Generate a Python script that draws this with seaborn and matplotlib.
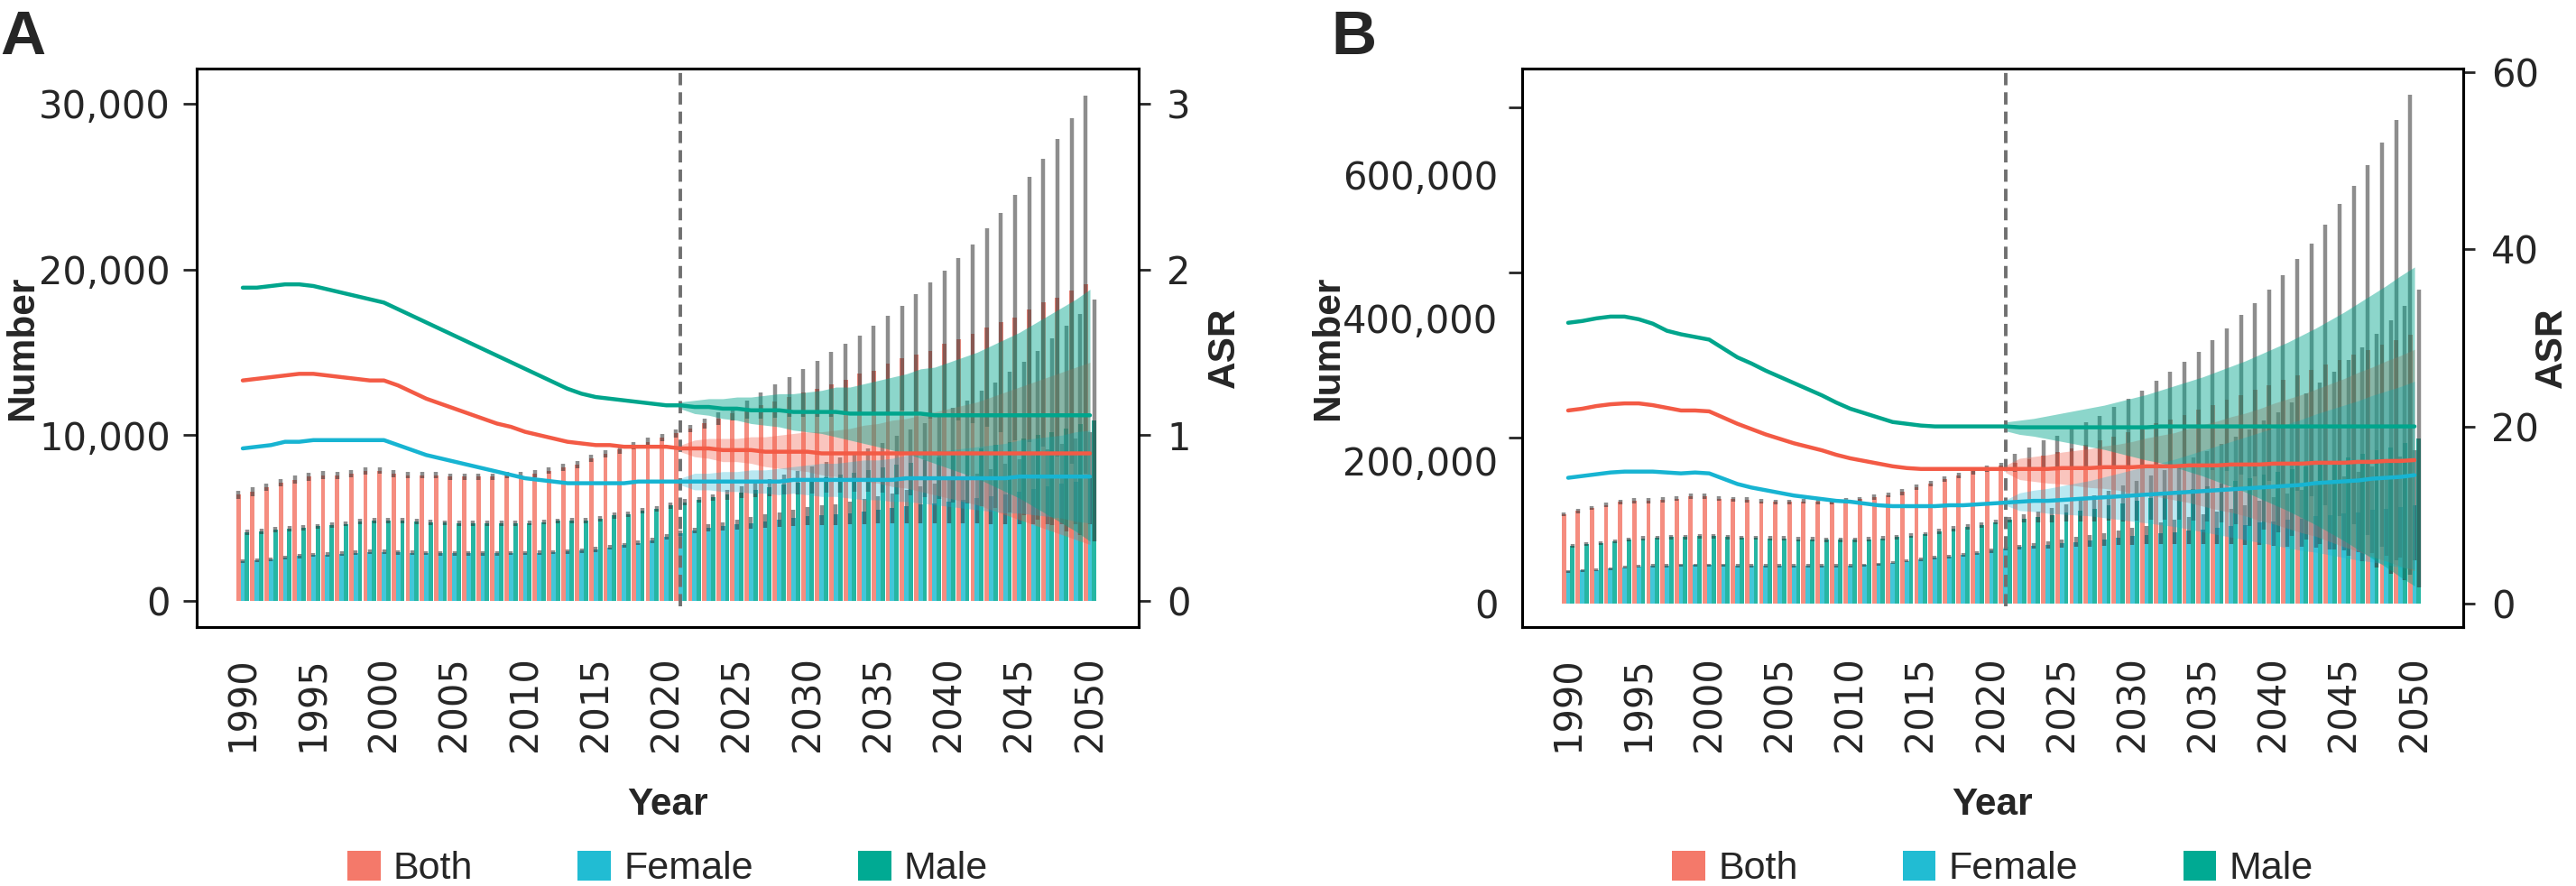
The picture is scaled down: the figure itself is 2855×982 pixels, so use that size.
import numpy as np
import pandas as pd
import matplotlib
matplotlib.use("Agg")
import matplotlib.pyplot as plt
import seaborn as sns
from matplotlib.patches import Patch
from matplotlib.ticker import FuncFormatter

# DATA
years = list(range(1990, 2051))
band_years = years[31:]          # 2021-2050, projection ribbons
sexes = ['Both', 'Female', 'Male']

# Panel A - numbers
a_num_both = [6410, 6590, 6860, 7130, 7310, 7490, 7590, 7590, 7680, 7860,
              7860, 7680, 7590, 7590, 7590, 7490, 7490, 7490, 7490, 7590,
              7590, 7680, 7860, 8040, 8220, 8580, 8850, 9130, 9350, 9600,
              9850, 10100, 10400, 10700, 11000, 11300, 11550, 11800, 12050, 12300,
              12550, 12800, 13050, 13350, 13700, 13900, 14300, 14650, 14850, 15100,
              15500, 15800, 16100, 16500, 16800, 17100, 17600, 18000, 18300, 18700,
              19100]
a_err_both = [250, 250, 240, 240, 230, 230, 230, 220, 220, 220,
              210, 210, 210, 200, 200, 200, 200, 200, 200, 200,
              200, 200, 210, 210, 210, 220, 220, 230, 230, 240,
              240, 250, 200, 300, 400, 400, 550, 800, 1000, 1200,
              1450, 1700, 1950, 2150, 2300, 2700, 2900, 3150, 3650, 4100,
              4400, 4900, 5400, 6000, 6600, 7400, 8000, 8700, 9600, 10400,
              11400]
a_num_female = [2410, 2450, 2500, 2600, 2700, 2770, 2800, 2850, 2900, 2950,
                2960, 2930, 2900, 2880, 2870, 2870, 2870, 2870, 2870, 2880,
                2890, 2910, 2940, 2980, 3040, 3100, 3230, 3350, 3500, 3650,
                3870, 4100, 4250, 4400, 4500, 4600, 4700, 4800, 4900, 5000,
                5100, 5150, 5200, 5300, 5400, 5500, 5600, 5700, 5800, 5900,
                6000, 6100, 6200, 6300, 6450, 6600, 6750, 6900, 7050, 7200,
                7400]
a_err_female = [120, 120, 120, 120, 130, 130, 130, 130, 130, 130,
                130, 130, 130, 130, 130, 130, 130, 130, 130, 130,
                130, 130, 130, 130, 140, 140, 140, 150, 150, 150,
                160, 160, 150, 200, 250, 300, 350, 400, 450, 500,
                550, 600, 650, 700, 750, 800, 900, 1000, 1100, 1200,
                1300, 1400, 1500, 1650, 1800, 1950, 2100, 2250, 2400, 2600,
                2800]
a_num_male = [4140, 4200, 4300, 4360, 4420, 4500, 4580, 4650, 4780, 4860,
              4860, 4830, 4780, 4750, 4720, 4680, 4680, 4680, 4680, 4680,
              4700, 4760, 4820, 4860, 4860, 4950, 5150, 5220, 5450, 5560,
              5750, 5950, 6100, 6250, 6400, 6550, 6700, 6850, 7000, 7150,
              7300, 7450, 7600, 7750, 7900, 8050, 8200, 8350, 8500, 8650,
              8800, 9000, 9200, 9400, 9600, 9800, 10000, 10200, 10400, 10650,
              10900]
a_err_male = [150, 150, 150, 150, 150, 150, 150, 150, 160, 160,
              160, 160, 160, 160, 150, 150, 150, 150, 150, 150,
              150, 150, 150, 160, 160, 160, 170, 170, 180, 180,
              190, 190, 150, 200, 280, 350, 430, 520, 600, 700,
              800, 920, 1050, 1170, 1300, 1500, 1750, 2000, 2250, 2500,
              2850, 3100, 3500, 3800, 4250, 4650, 5100, 5650, 6200, 6650,
              7300]

# Panel A - ASR
a_asr_both = [1.33, 1.34, 1.35, 1.36, 1.37, 1.37, 1.36, 1.35, 1.34, 1.33,
              1.33, 1.30, 1.26, 1.22, 1.19, 1.16, 1.13, 1.10, 1.07, 1.05,
              1.02, 1.00, 0.98, 0.96, 0.95, 0.94, 0.94, 0.93, 0.93, 0.93,
              0.93, 0.92, 0.92, 0.92, 0.91, 0.91, 0.91, 0.90, 0.90, 0.90,
              0.90, 0.89, 0.89, 0.89, 0.89, 0.89, 0.89, 0.89, 0.89, 0.89,
              0.89, 0.89, 0.89, 0.89, 0.89, 0.89, 0.89, 0.89, 0.89, 0.89,
              0.89]
a_asr_female = [0.92, 0.93, 0.94, 0.96, 0.96, 0.97, 0.97, 0.97, 0.97, 0.97,
                0.97, 0.94, 0.91, 0.88, 0.86, 0.84, 0.82, 0.80, 0.78, 0.76,
                0.74, 0.73, 0.72, 0.71, 0.71, 0.71, 0.71, 0.71, 0.72, 0.72,
                0.72, 0.72, 0.72, 0.72, 0.72, 0.72, 0.72, 0.72, 0.72, 0.73,
                0.73, 0.73, 0.73, 0.73, 0.73, 0.73, 0.73, 0.74, 0.74, 0.74,
                0.74, 0.74, 0.74, 0.74, 0.74, 0.75, 0.75, 0.75, 0.75, 0.75,
                0.75]
a_asr_male = [1.89, 1.89, 1.90, 1.91, 1.91, 1.90, 1.88, 1.86, 1.84, 1.82,
              1.80, 1.76, 1.72, 1.68, 1.64, 1.60, 1.56, 1.52, 1.48, 1.44,
              1.40, 1.36, 1.32, 1.28, 1.25, 1.23, 1.22, 1.21, 1.20, 1.19,
              1.18, 1.18, 1.17, 1.17, 1.16, 1.16, 1.15, 1.15, 1.15, 1.14,
              1.14, 1.14, 1.14, 1.13, 1.13, 1.13, 1.13, 1.13, 1.13, 1.12,
              1.12, 1.12, 1.12, 1.12, 1.12, 1.12, 1.12, 1.12, 1.12, 1.12,
              1.12]
# half width of projection ribbons, 2021-2050
a_band_both = [0.02, 0.05, 0.06, 0.07, 0.07, 0.08, 0.09, 0.10, 0.11,
               0.12, 0.13, 0.14, 0.15, 0.17, 0.18, 0.20, 0.21, 0.23, 0.25,
               0.27, 0.29, 0.31, 0.34, 0.37, 0.40, 0.43, 0.46, 0.49, 0.52,
               0.55]
a_band_female = [0.02, 0.05, 0.05, 0.06, 0.06, 0.07, 0.07, 0.08, 0.08,
                 0.09, 0.10, 0.10, 0.11, 0.12, 0.12, 0.13, 0.14, 0.15, 0.16,
                 0.17, 0.18, 0.19, 0.20, 0.21, 0.22, 0.23, 0.24, 0.25, 0.27,
                 0.28]
a_band_male = [0.02, 0.04, 0.05, 0.06, 0.07, 0.08, 0.09, 0.10, 0.11,
               0.12, 0.13, 0.15, 0.16, 0.18, 0.20, 0.22, 0.24, 0.27, 0.29,
               0.32, 0.35, 0.38, 0.42, 0.46, 0.50, 0.55, 0.60, 0.65, 0.70,
               0.76]

# Panel B - numbers (thousands)
b_num_both_k = [125, 129.5, 133.7, 137.8, 142, 144, 144, 145, 147, 150,
                150, 147, 146, 145, 143, 142, 142, 143, 142, 142,
                144, 146, 149, 152, 156, 163, 168, 174, 179, 185,
                189, 193, 197, 202, 207, 212, 217, 222, 228, 234,
                240, 246, 252, 258, 264, 271, 278, 285, 292, 299,
                306, 313, 320, 327, 334, 341, 348, 355, 362, 369,
                376]
b_err_both_k = [3, 3, 3, 3, 3.5, 3.5, 3.5, 3.5, 3.5, 3.5,
                3.5, 3.5, 3.5, 3.5, 3.5, 3.5, 3.5, 3.5, 3.5, 3.5,
                3.5, 3.5, 3.5, 3.5, 4, 4, 4, 4, 4, 4.5,
                4.5, 4.5, 13, 17, 21, 23, 28, 32, 35, 41,
                47, 52, 60, 66, 74, 81, 91, 100, 112, 121,
                134, 147, 162, 177, 196, 218, 237, 259, 283, 308,
                336]
b_num_female_k = [45, 46, 47, 49, 51, 52, 53, 53, 54, 54,
                  54, 54, 53, 53, 53, 53, 53, 53, 53, 53,
                  53, 54, 55, 57, 59.5, 62, 64, 66, 68, 70,
                  74, 77, 79, 81, 82, 84, 86, 88, 90, 92,
                  94, 96, 98, 100, 102, 104, 106, 108, 110, 113,
                  115, 117, 119, 122, 124, 126, 128, 131, 133, 135,
                  138]
b_err_female_k = [2, 2, 2, 2, 2, 2, 2, 2, 2, 2,
                  2, 2, 2, 2, 2, 2, 2, 2, 2, 2,
                  2, 2, 2, 2, 2, 2.5, 2.5, 2.5, 2.5, 2.5,
                  3, 3, 3, 4, 5, 6, 7, 8, 9, 10,
                  12, 13, 15, 17, 19, 21, 23, 25, 28, 31,
                  34, 37, 40, 44, 48, 52, 56, 61, 66, 71,
                  77]
b_num_male_k = [81, 83, 85, 87, 89, 91, 92, 93, 93, 94,
                94, 93, 92, 92, 91, 91, 90, 90, 89, 89,
                89, 90, 91, 93, 95, 97, 101, 105, 107, 110,
                114, 117, 119, 121, 124, 127, 130, 133, 137, 140,
                144, 148, 152, 156, 160, 164, 168, 172, 176, 180,
                184, 188, 192, 196, 200, 204, 209, 214, 219, 225,
                231]
b_err_male_k = [2.5, 2.5, 2.5, 2.5, 2.5, 3, 3, 3, 3, 3,
                3, 3, 3, 3, 3, 3, 3, 3, 3, 3,
                3, 3, 3, 3, 3, 3, 3.5, 3.5, 3.5, 3.5,
                3.5, 4, 6, 8, 10, 12, 15, 18, 21, 25,
                28, 31, 35, 39, 44, 49, 55, 61, 68, 76,
                84, 93, 102, 113, 124, 137, 150, 164, 178, 192,
                208]

# Panel B - ASR
b_asr_both = [21.8, 22.0, 22.3, 22.5, 22.6, 22.6, 22.4, 22.1, 21.8, 21.8,
              21.7, 21.0, 20.3, 19.7, 19.1, 18.6, 18.1, 17.7, 17.3, 16.8,
              16.4, 16.1, 15.8, 15.5, 15.3, 15.2, 15.2, 15.2, 15.2, 15.2,
              15.2, 15.2, 15.2, 15.2, 15.2, 15.3, 15.3, 15.3, 15.4, 15.4,
              15.4, 15.5, 15.5, 15.5, 15.6, 15.6, 15.6, 15.7, 15.7, 15.7,
              15.8, 15.8, 15.8, 15.9, 15.9, 15.9, 16.0, 16.0, 16.1, 16.1,
              16.2]
b_asr_female = [14.2, 14.4, 14.6, 14.8, 14.9, 14.9, 14.9, 14.8, 14.7, 14.8,
                14.7, 14.1, 13.5, 13.1, 12.8, 12.5, 12.2, 12.0, 11.8, 11.6,
                11.5, 11.3, 11.1, 11.0, 11.0, 11.0, 11.0, 11.1, 11.1, 11.2,
                11.3, 11.4, 11.5, 11.6, 11.6, 11.7, 11.8, 11.9, 12.0, 12.1,
                12.2, 12.3, 12.4, 12.5, 12.6, 12.7, 12.8, 12.9, 13.0, 13.1,
                13.2, 13.3, 13.4, 13.6, 13.7, 13.8, 13.9, 14.1, 14.2, 14.3,
                14.5]
b_asr_male = [31.7, 31.9, 32.2, 32.4, 32.4, 32.1, 31.6, 30.8, 30.4, 30.1,
              29.8, 28.8, 27.8, 27.1, 26.3, 25.6, 24.9, 24.2, 23.5, 22.7,
              22.0, 21.5, 21.0, 20.5, 20.3, 20.1, 20.0, 20.0, 20.0, 20.0,
              20.0, 20.0, 19.9, 19.9, 19.9, 19.9, 19.9, 19.9, 19.9, 19.9,
              19.9, 19.9, 20.0, 20.0, 20.0, 20.0, 20.0, 20.0, 20.0, 20.0,
              20.0, 20.0, 20.0, 20.0, 20.0, 20.0, 20.0, 20.0, 20.0, 20.0,
              20.0]
b_band_both = [0.4, 1.2, 1.4, 1.6, 1.8, 2.0, 2.2, 2.4, 2.6,
               2.9, 3.2, 3.5, 3.8, 4.2, 4.6, 5.0, 5.4, 5.8, 6.3,
               6.8, 7.3, 7.8, 8.3, 8.9, 9.5, 10.1, 10.7, 11.3, 11.9,
               12.5]
b_band_female = [0.3, 1.0, 1.2, 1.4, 1.6, 1.8, 2.0, 2.3, 2.6,
                 2.9, 3.2, 3.5, 3.8, 4.2, 4.6, 5.0, 5.4, 5.8, 6.2,
                 6.6, 7.0, 7.4, 7.8, 8.2, 8.6, 9.0, 9.4, 9.8, 10.2,
                 10.6]
b_band_male = [0.5, 0.8, 1.0, 1.3, 1.6, 1.9, 2.2, 2.5, 2.9,
               3.3, 3.7, 4.1, 4.6, 5.1, 5.6, 6.2, 6.8, 7.4, 8.1,
               8.8, 9.5, 10.3, 11.1, 12.0, 12.9, 13.9, 14.9, 15.9, 17.0,
               18.0]

# STYLE
bar_colors = {'Both': '#F4796A', 'Female': '#21BCD3', 'Male': '#00AA93'}
line_colors = {'Both': '#F35A45', 'Female': '#17B4D2', 'Male': '#00A58C'}
band_alpha = {'Both': 0.35, 'Female': 0.3, 'Male': 0.45}

sns.set_style("white")
plt.rcParams['font.family'] = ['DejaVu Sans']
LABEL_FONT = 'Liberation Sans'


def long_table(both, female, male, col):
    return pd.DataFrame({
        'year': years * 3,
        'sex': ['Both'] * len(years) + ['Female'] * len(years) + ['Male'] * len(years),
        col: list(both) + list(female) + list(male),
    })


def draw_panel(ax, nums, errs, asrs, bands, ylim, yticks, ylim2, yticks2, odd_ticks=None):
    num_df = long_table(*nums, col='number')
    asr_df = long_table(*asrs, col='asr')

    # bars
    sns.barplot(data=num_df, x='year', y='number', hue='sex', hue_order=sexes,
                palette=bar_colors, native_scale=True, width=0.93, errorbar=None,
                saturation=1, alpha=0.85, linewidth=0, legend=False, ax=ax)

    # uncertainty bars on top of each bar
    for cont, err in zip(ax.containers, errs):
        xs = [p.get_x() + p.get_width() / 2 for p in cont]
        hs = np.array([p.get_height() for p in cont])
        e = np.array(err)
        ax.vlines(xs, hs - e, hs + e, colors='#2f2f2f', linewidth=3.2, alpha=0.55, zorder=3)

    # ASR on second axis
    ax2 = ax.twinx()
    for s, asr, band in zip(sexes, asrs, bands):
        proj = np.array(asr[31:])
        hw = np.array(band)
        ax2.fill_between(band_years, proj - hw, proj + hw, color=line_colors[s],
                         alpha=band_alpha[s], linewidth=0, zorder=1)
    sns.lineplot(data=asr_df, x='year', y='asr', hue='sex', hue_order=sexes,
                 palette=line_colors, linewidth=3.2, legend=False, ax=ax2, zorder=3)
    ax2.axvline(2021, ymin=0.037, ymax=0.995, color='#707070', linewidth=2.8,
                linestyle=(0, (3.5, 2)), zorder=2)

    # axes
    ax.set_xlim(1986.74, 2053.45)
    ax.set_xticks(list(range(1990, 2051, 5)))
    ax.set_xticklabels([str(y) for y in range(1990, 2051, 5)], rotation=90)
    ax.set_ylim(*ylim)
    ax.set_yticks(yticks)
    ax.yaxis.set_major_formatter(FuncFormatter(lambda v, p: f'{v:,.0f}'))
    ax2.set_ylim(*ylim2)
    ax2.set_yticks(yticks2)

    ax.tick_params(axis='x', length=10, width=2, labelsize=30, pad=13, direction='out')
    ax.tick_params(axis='y', length=10.8, width=2, labelsize=30, pad=10, direction='out')
    ax2.tick_params(axis='y', length=9.5, width=2, labelsize=30, pad=13, direction='out')
    if odd_ticks is not None:
        # tick marks sit apart from the labels in panel B
        ax.tick_params(axis='y', which='major', length=0, pad=19)
        ax.set_yticks(odd_ticks, minor=True)
        ax.tick_params(axis='y', which='minor', length=10.8, width=2, direction='out')

    for sp in list(ax.spines.values()) + list(ax2.spines.values()):
        sp.set_linewidth(2.2)
        sp.set_color('black')

    ax.set_xlabel('Year', fontsize=30.5, fontweight='bold', family=LABEL_FONT)
    ax.xaxis.set_label_coords(0.5, -0.318)
    ax.xaxis.label.set_va('center')
    ax.set_ylabel('Number', fontsize=30.5, fontweight='bold', family=LABEL_FONT)
    ax2.set_ylabel('ASR', fontsize=30.5, fontweight='bold', family=LABEL_FONT, rotation=90)
    for lab in (ax.yaxis.label, ax2.yaxis.label):
        lab.set_va('center')
        lab.set_ha('center')

    handles = [Patch(facecolor=bar_colors[s], edgecolor='none') for s in sexes]
    ax.legend(handles, sexes, loc='center', bbox_to_anchor=(0.5, -0.433), ncol=3,
              frameon=False, prop={'family': LABEL_FONT, 'size': 31},
              handlelength=0.85, handleheight=0.8, handletextpad=0.33, columnspacing=2.7)
    return ax2


fig = plt.figure(figsize=(28.55, 9.82), dpi=100)
axA = fig.add_axes([218 / 2855, 1 - 695 / 982, 1044 / 2855, 619 / 982])
axB = fig.add_axes([1687 / 2855, 1 - 695 / 982, 1043 / 2855, 619 / 982])

a2 = draw_panel(axA, (a_num_both, a_num_female, a_num_male),
                (a_err_both, a_err_female, a_err_male),
                (a_asr_both, a_asr_female, a_asr_male),
                (a_band_both, a_band_female, a_band_male),
                (-1580, 32120), [0, 10000, 20000, 30000],
                (-0.158, 3.212), [0, 1, 2, 3])
axA.yaxis.set_label_coords(-0.185, 0.5)
a2.yaxis.set_label_coords(1.091, 0.5)

b_nums = tuple(np.array(v) * 1000 for v in (b_num_both_k, b_num_female_k, b_num_male_k))
b_errs = tuple(np.array(v) * 1000 for v in (b_err_both_k, b_err_female_k, b_err_male_k))
b2 = draw_panel(axB, b_nums, b_errs,
                (b_asr_both, b_asr_female, b_asr_male),
                (b_band_both, b_band_female, b_band_male),
                (-33000, 749000), [0, 200000, 400000, 600000],
                (-2.65, 60.4), [0, 20, 40, 60],
                odd_ticks=[0, 232000, 464000, 695000])
axB.yaxis.set_label_coords(-0.206, 0.5)
b2.yaxis.set_label_coords(1.094, 0.5)

fig.text(0.0, 1 - 60 / 982, 'A', fontsize=50, fontweight='bold', family=LABEL_FONT, va='baseline')
fig.text(1475 / 2855, 1 - 60 / 982, 'B', fontsize=50, fontweight='bold', family=LABEL_FONT, va='baseline')

fig.savefig('out.png', dpi=100)
